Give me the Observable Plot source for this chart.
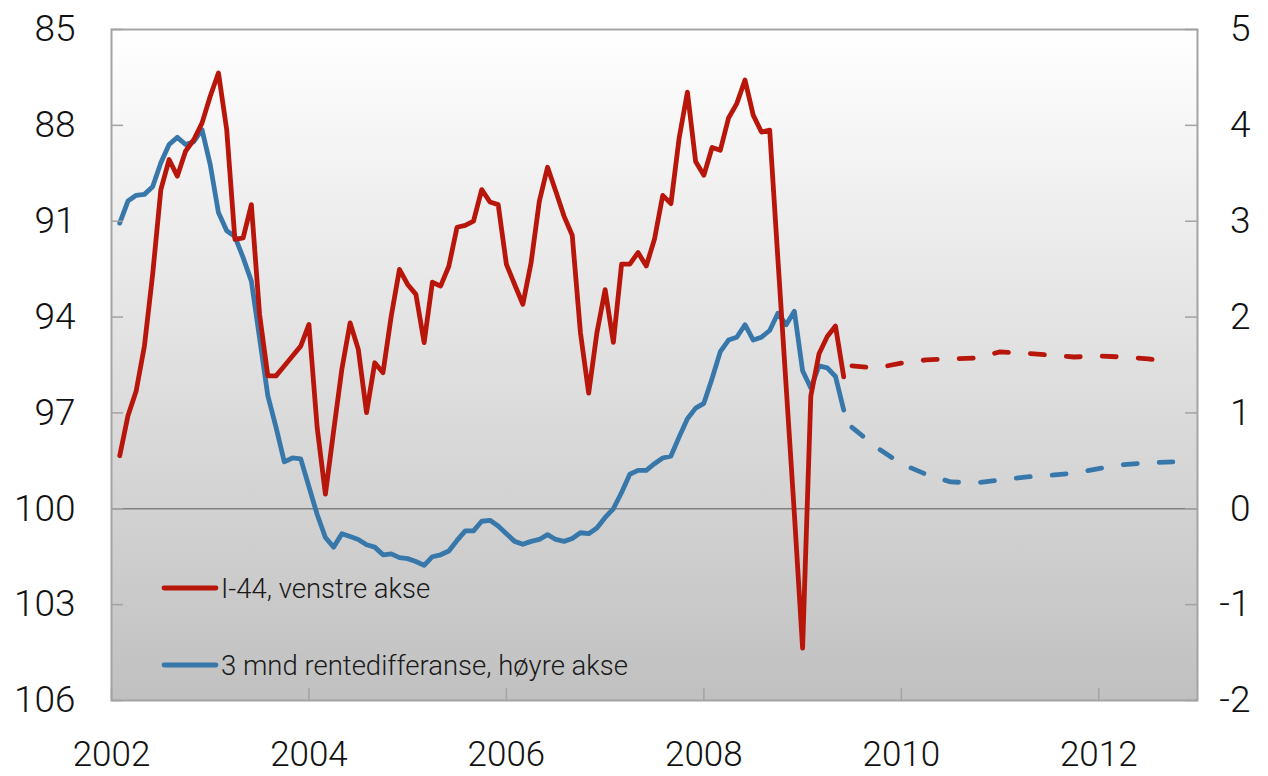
<!DOCTYPE html>
<html><head><meta charset="utf-8">
<script src="https://cdn.jsdelivr.net/npm/d3@7"></script>
<script src="https://cdn.jsdelivr.net/npm/@observablehq/plot@0.6"></script>
<style>html,body{margin:0;padding:0;background:#fff;} svg{display:block}</style>
</head><body><div id="chart"></div>
<script>
// Monthly series, Jan 2002 – May 2009
const startYear = 2002;
const i44 = [
  98.34, 97.09, 96.31, 94.91, 92.67, 90.01, 89.07, 89.59, 88.81, 88.45,
  87.93, 87.09, 86.36, 88.13, 91.57, 91.52, 90.48, 93.92, 95.84, 95.84,
  95.53, 95.22, 94.91, 94.23, 97.46, 99.54, 97.56, 95.63, 94.18, 95.01,
  96.99, 95.43, 95.74, 93.97, 92.51, 92.98, 93.29, 94.80, 92.91, 93.03,
  92.41, 91.19, 91.13, 91.00, 90.01, 90.40, 90.48, 92.35, 92.98, 93.60,
  92.30, 90.38, 89.31, 90.06, 90.84, 91.44, 94.49, 96.38, 94.49, 93.14,
  94.79, 92.34, 92.34, 91.98, 92.40, 91.56, 90.19, 90.45, 88.39, 86.96,
  89.13, 89.56, 88.69, 88.78, 87.77, 87.32, 86.58, 87.68, 88.21, 88.15,
  92.19, 96.16, 100.16, 104.36, 96.47, 95.15, 94.61, 94.28, 95.87
];
const spread = [
  2.98, 3.21, 3.27, 3.28, 3.36, 3.61, 3.80, 3.875, 3.80, 3.83,
  3.955, 3.59, 3.09, 2.90, 2.84, 2.62, 2.375, 1.78, 1.18, 0.85,
  0.49, 0.53, 0.52, 0.23, -0.06, -0.30, -0.40, -0.26, -0.29, -0.32,
  -0.375, -0.40, -0.48, -0.47, -0.51, -0.52, -0.55, -0.59, -0.50, -0.48,
  -0.44, -0.33, -0.23, -0.23, -0.13, -0.12, -0.18, -0.26, -0.34, -0.37,
  -0.34, -0.32, -0.27, -0.32, -0.34, -0.31, -0.25, -0.26, -0.20, -0.09,
  0.00, 0.17, 0.36, 0.40, 0.40, 0.47, 0.53, 0.55, 0.75, 0.94,
  1.05, 1.10, 1.36, 1.64, 1.76, 1.79, 1.92, 1.76, 1.79, 1.86,
  2.04, 1.92, 2.06, 1.44, 1.26, 1.49, 1.47, 1.38, 1.03
];
// Quarterly projections (dashed), mid 2009 – end 2012
const forecastT = [2009.5, 2009.75, 2010, 2010.25, 2010.5, 2010.75, 2011, 2011.25, 2011.5, 2011.75, 2012, 2012.25, 2012.5, 2012.75];
const i44Forecast = [95.53, 95.59, 95.44, 95.34, 95.31, 95.28, 95.09, 95.13, 95.19, 95.25, 95.22, 95.25, 95.31, 95.41];
const spreadForecast = [0.85, 0.64, 0.47, 0.36, 0.28, 0.27, 0.30, 0.33, 0.35, 0.37, 0.42, 0.46, 0.48, 0.49];

const leftTicks = [85, 88, 91, 94, 97, 100, 103, 106];
const xTicks = [2002, 2004, 2006, 2008, 2010, 2012];
const xDomain = [2002, 2013];

const RED = "#b8150b";
const BLUE = "#3777aa";
const legendItems = [
  {label: "I-44, venstre akse", color: RED},
  {label: "3 mnd rentedifferanse, høyre akse", color: BLUE}
];

// Right axis (percentage points) maps onto left axis: left = 100 - 3 * right
const toLeft = v => 100 - 3 * v;
const toRight = d => (100 - d) / 3;
const monthT = i => startYear + (i + 1) / 12;

const hist = i44.map((v, i) => ({t: monthT(i), i44: v, spread: toLeft(spread[i])}));
const fc = forecastT.map((t, i) => ({t, i44: i44Forecast[i], spread: toLeft(spreadForecast[i])}));

const W = 1268, H = 776, mL = 111, mR = 71, mT = 29, mB = 76;
const plotW = W - mL - mR, plotH = H - mT - mB;
const tickLen = 12;
const FONT = "Roboto, 'Liberation Sans', Arial, sans-serif";
const axisGray = "#a3a3a3";
const lineOpts = {strokeWidth: 4.8, strokeLinejoin: "round", strokeLinecap: "round"};

const svg = Plot.plot({
  width: W, height: H,
  marginLeft: mL, marginRight: mR, marginTop: mT, marginBottom: mB,
  style: {fontFamily: FONT, fontWeight: 300, background: "#fff", color: "#111", overflow: "visible"},
  x: {type: "linear", domain: xDomain},
  y: {type: "linear", domain: [106, 85]},
  marks: [
    Plot.frame({fill: "url(#bgGrad)", stroke: "none"}),
    Plot.ruleY([100], {stroke: "#808080", strokeWidth: 1.5}),
    Plot.line(hist, {x: "t", y: "spread", stroke: BLUE, ...lineOpts}),
    Plot.line(hist, {x: "t", y: "i44", stroke: RED, ...lineOpts}),
    Plot.line(fc, {x: "t", y: "spread", stroke: BLUE, strokeDasharray: "14,22", ...lineOpts}),
    Plot.line(fc, {x: "t", y: "i44", stroke: RED, strokeDasharray: "14,22", ...lineOpts}),
    Plot.frame({stroke: axisGray, strokeWidth: 2}),
    Plot.tickY(leftTicks, {y: d => d, stroke: axisGray, strokeWidth: 1.5, insetRight: plotW - tickLen}),
    Plot.tickY(leftTicks, {y: d => d, stroke: axisGray, strokeWidth: 1.5, insetLeft: plotW - tickLen}),
    Plot.tickX(xTicks, {x: d => d, stroke: axisGray, strokeWidth: 1.5, insetTop: plotH - tickLen}),
    Plot.axisY(leftTicks, {anchor: "left", tickSize: 0, tickPadding: 36, fontSize: 37, tickFormat: d => String(d), label: null}),
    Plot.axisY(leftTicks, {anchor: "right", tickSize: 0, tickPadding: 53, textAnchor: "end", fontSize: 37, tickFormat: d => String(Math.round(toRight(d))), label: null}),
    Plot.axisX(xTicks, {anchor: "bottom", tickSize: 0, tickPadding: 41, fontSize: 35, tickFormat: d => String(d), label: null})
  ]
});

const root = d3.select(svg);
const defs = root.insert("defs", ":first-child");
const grad = defs.append("linearGradient").attr("id", "bgGrad")
  .attr("x1", 0).attr("y1", 0).attr("x2", 0).attr("y2", 1);
grad.append("stop").attr("offset", "0%").attr("stop-color", "#ffffff");
grad.append("stop").attr("offset", "100%").attr("stop-color", "#c0c0c0");

const lg = root.append("g").attr("font-family", FONT).attr("font-weight", 300).attr("text-anchor", "start");
legendItems.forEach((d, k) => {
  const y = 588 + k * 77;
  lg.append("line").attr("x1", 164).attr("x2", 216).attr("y1", y).attr("y2", y)
    .attr("stroke", d.color).attr("stroke-width", 4.8).attr("stroke-linecap", "round");
  lg.append("text").attr("x", 221).attr("y", y).attr("dy", "0.35em").attr("text-anchor", "start")
    .attr("font-size", 27.5).attr("fill", "#1a1a1a").text(d.label);
});

document.getElementById("chart").appendChild(svg);
</script>
</body></html>
